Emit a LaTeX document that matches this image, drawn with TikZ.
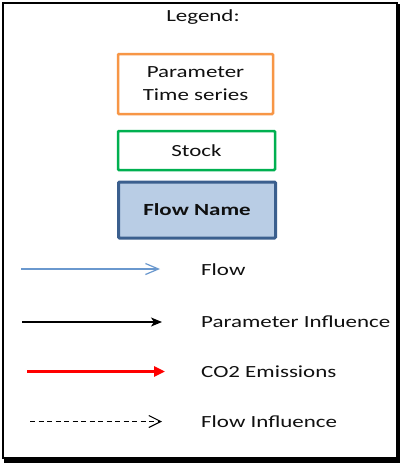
\documentclass[tikz,border=0pt]{standalone}
\usepackage{fontspec}
\setmainfont[FakeStretch=1.35]{Carlito}
\usetikzlibrary{arrows.meta}
\definecolor{txt}{HTML}{101010}
\definecolor{orangeb}{HTML}{F79646}
\definecolor{greenb}{HTML}{00B050}
\definecolor{blueb}{HTML}{3B5F8E}
\definecolor{bluefill}{HTML}{B9CDE5}
\definecolor{flowblue}{HTML}{6A98CE}
\begin{document}
\begin{tikzpicture}[x=1pt,y=-1pt,
  lbl/.style={font=\fontsize{17}{23}\selectfont, text=txt, inner sep=0pt},
  box/.style={lbl, line width=2.5pt, rounded corners=1pt, align=center},
  keytext/.style={lbl, anchor=west},
  flowarrow/.style={draw=flowblue, line width=1.2pt, -{Straight Barb[length=13pt,width=11pt,line width=1.2pt]}},
  pararrow/.style={draw=black, line width=1.3pt, -{Stealth[length=11pt,width=9pt,inset=3pt]}},
  co2arrow/.style={draw=red, line width=2.6pt, -{Triangle[length=11pt,width=10pt]}},
  finfarrow/.style={draw=black, line width=1pt, dash pattern=on 5pt off 3.5pt, -{Straight Barb[length=12pt,width=12pt,line width=1.1pt]}}
]
\useasboundingbox (0,0) rectangle (400,463);
% frame with shadow
\fill[black] (4,4) rectangle (400,463);
\draw[line width=2pt, fill=white] (3,3) rectangle (397,458);

\node[lbl] (legend) at (203,17) {Legend:};

\node[box, draw=orangeb, minimum width=155pt, minimum height=60pt] (param) at (195.5,84) {Parameter\\Time series};
\node[box, draw=greenb, minimum width=157pt, minimum height=39pt] (stock) at (196.5,150.5) {Stock};
\node[box, draw=blueb, fill=bluefill, line width=3pt, minimum width=157pt, minimum height=56pt] (flowname) at (197,210) {\bfseries Flow Name};

\coordinate (f1) at (21,269);   \coordinate (f2) at (160,269);
\coordinate (p1) at (22,322);   \coordinate (p2) at (162,322);
\coordinate (c1) at (27,371.5); \coordinate (c2) at (165,371.5);
\coordinate (d1) at (30,421.5); \coordinate (d2) at (162,421.5);

\draw[flowarrow] (f1) -- (f2);
\draw[pararrow] (p1) -- (p2);
\draw[co2arrow] (c1) -- (c2);
\draw[finfarrow] (d1) -- (d2);

\node[keytext] (tflow) at (201,270) {Flow};
\node[keytext] (tpar) at (201,322) {Parameter Influence};
\node[keytext] (tco2) at (201,372) {CO2 Emissions};
\node[keytext] (tfinf) at (201,422) {Flow Influence};
\end{tikzpicture}
\end{document}
